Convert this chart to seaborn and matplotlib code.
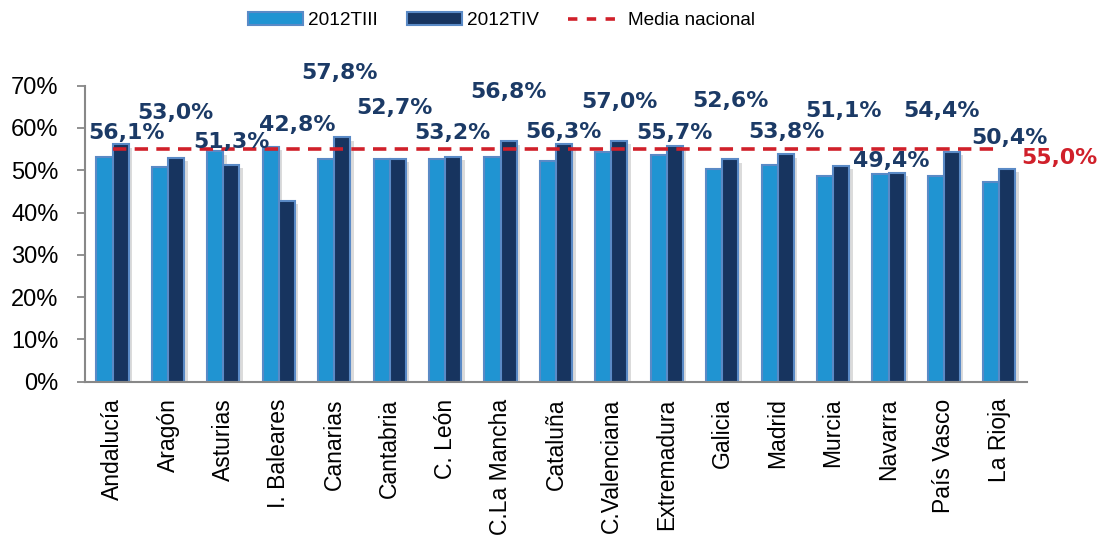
import numpy as np
import pandas as pd
import matplotlib
matplotlib.use("Agg")
import matplotlib.pyplot as plt
import matplotlib.patheffects as pe
from matplotlib.patches import Patch
from matplotlib.lines import Line2D
import seaborn as sns

# data
regiones = ["Andalucía", "Aragón", "Asturias", "I. Baleares", "Canarias",
            "Cantabria", "C. León", "C.La Mancha", "Cataluña", "C.Valenciana",
            "Extremadura", "Galicia", "Madrid", "Murcia", "Navarra",
            "País Vasco", "La Rioja"]
t3_2012 = [53.1, 50.8, 54.5, 55.6, 52.7, 52.6, 52.7, 53.1, 52.3, 54.4,
           53.5, 50.4, 51.3, 48.6, 49.1, 48.6, 47.3]
t4_2012 = [56.1, 53.0, 51.3, 42.8, 57.8, 52.7, 53.2, 56.8, 56.3, 57.0,
           55.7, 52.6, 53.8, 51.1, 49.4, 54.4, 50.4]
media_nacional = 55.0
series = ["2012TIII", "2012TIV"]
yticks = [0, 10, 20, 30, 40, 50, 60, 70]

# label placement (style only): horizontal shift and height of each value label
lbl_dx = [0.26, 0.14, 0.14, 0.33, 0.1, 0.09, 0.14, 0.14, 0.14, 0.14,
          0.14, 0.14, 0.15, 0.19, 0.05, -0.04, 0.19]
lbl_y = [58.8, 63.5, 56.6, 60.7, 73.0, 64.7, 58.8, 68.5, 59.0, 66.1,
         58.8, 66.4, 59.0, 64.0, 52.3, 64.0, 57.6]

light = "#2094D2"
dark = "#17345F"
edge = "#5A8AC6"
red = "#D0202A"
navy = "#1B3A66"

df = pd.DataFrame({
    "region": regiones * 2,
    "serie": [series[0]] * len(regiones) + [series[1]] * len(regiones),
    "valor": t3_2012 + t4_2012,
})

sns.set_style("white")
plt.rcParams["font.family"] = ["Liberation Sans", "DejaVu Sans"]
plt.rcParams["text.color"] = "black"
plt.rcParams["xtick.labelcolor"] = "black"
plt.rcParams["ytick.labelcolor"] = "black"

fig = plt.figure(figsize=(11.02, 5.45), dpi=100)
ax = fig.add_axes([0.077, 0.2996, 0.855, 0.5432])

sns.barplot(data=df, x="region", y="valor", hue="serie",
            palette=[light, dark], width=0.58, saturation=1,
            edgecolor=edge, linewidth=1.5, legend=False, ax=ax)
for p in ax.patches:
    p.set_path_effects([pe.SimplePatchShadow(offset=(2.5, -2.5), shadow_rgbFace="#999999", alpha=0.35),
                        pe.Normal()])

x = np.arange(len(regiones))
ax.plot(x, [media_nacional] * len(regiones), color=red, lw=2.6,
        dashes=(3.7, 2.3), zorder=5)

for i, v in enumerate(t4_2012):
    ax.text(i + lbl_dx[i], lbl_y[i], f"{v:.1f}%".replace(".", ","),
            ha="center", va="center", fontsize=15.8, fontweight="bold",
            color=navy, family="DejaVu Sans", clip_on=False, zorder=6)
ax.annotate(f"{media_nacional:.1f}%".replace(".", ","), xy=(len(regiones) - 1, media_nacional),
            xytext=(43, -6.5), textcoords="offset points", ha="center", va="center",
            fontsize=15.8, fontweight="bold", color=red, family="DejaVu Sans",
            annotation_clip=False)

ax.set_xlim(-0.5, len(regiones) - 0.5)
ax.set_ylim(0, 70)
ax.set_yticks(yticks)
ax.set_yticklabels([f"{t}%" for t in yticks], fontsize=17)
ax.set_xticks(x)
ax.set_xticklabels(regiones, rotation=90, fontsize=16.5)
ax.set_xticks(np.arange(-0.5, len(regiones)), minor=True)
ax.tick_params(axis="x", which="major", length=0, pad=12)
ax.tick_params(axis="x", which="minor", length=6, width=1.3, color="#888888", direction="out")
ax.tick_params(axis="y", length=6, width=1.3, color="#888888", direction="out", pad=13, left=True)
ax.set_xlabel("")
ax.set_ylabel("")
for s in ["top", "right"]:
    ax.spines[s].set_visible(False)
for s in ["left", "bottom"]:
    ax.spines[s].set_color("#888888")
    ax.spines[s].set_linewidth(1.5)

handles = [Patch(facecolor=light, edgecolor=edge, lw=1.5, label=series[0]),
           Patch(facecolor=dark, edgecolor=edge, lw=1.5, label=series[1]),
           Line2D([0], [0], color=red, lw=2.6, dashes=(2.6, 2.6), label="Media nacional")]
fig.legend(handles=handles, loc="center", bbox_to_anchor=(0.455, 0.962), ncol=3,
           frameon=False, fontsize=13.7, handlelength=2.9, handleheight=0.68,
           handletextpad=0.28, columnspacing=1.5)

fig.savefig("out.png", dpi=100)
